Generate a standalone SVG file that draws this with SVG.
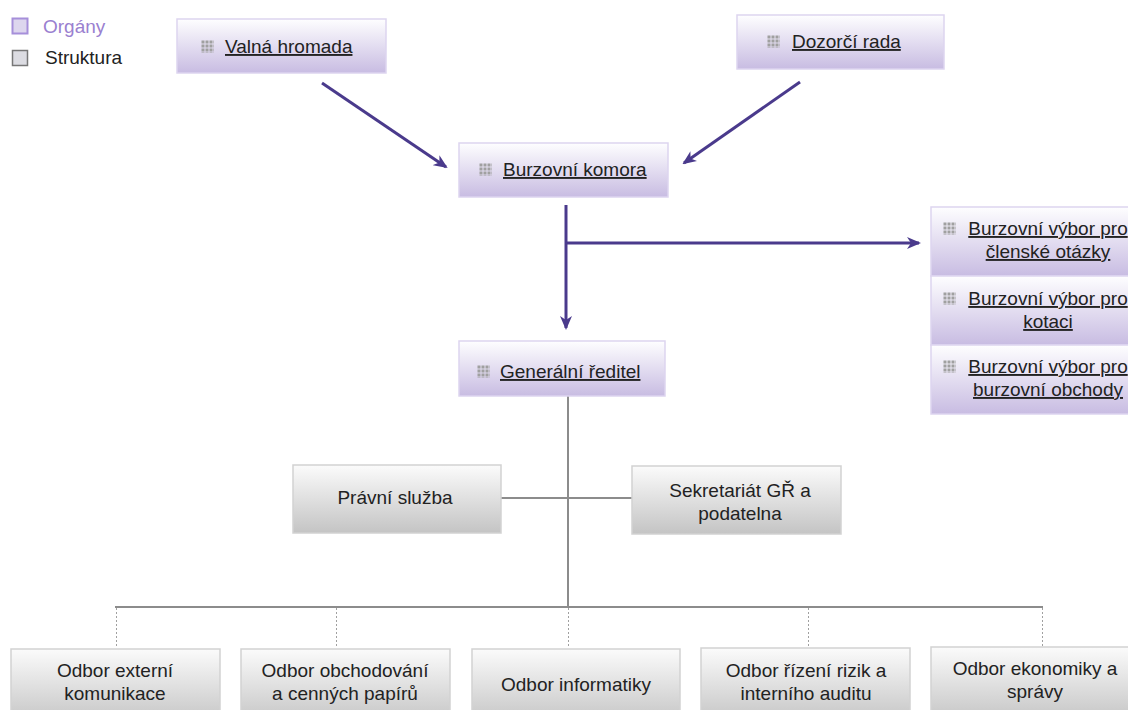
<svg xmlns="http://www.w3.org/2000/svg" width="1128" height="710" viewBox="0 0 1128 710">
<style>
.t{font-family:"Liberation Sans",Arial,sans-serif;font-size:19px;fill:#222;}
.u{text-decoration:underline;}
.org rect.b{fill:url(#gp);stroke:#ddd5ef;stroke-width:1.5;}
.str rect.b{fill:url(#gg);stroke:#d2d2d2;stroke-width:1.5;}
.arr{stroke:#4a3a8c;stroke-width:3;fill:none;marker-end:url(#ah);}
.gl{stroke:#8c8c8c;stroke-width:2;fill:none;}
.dl{stroke:#a0a0a0;stroke-width:1;stroke-dasharray:2 2;fill:none;}
</style>
<defs>
<linearGradient id="gp" x1="0" y1="0" x2="0" y2="1"><stop offset="0" stop-color="#fefeff"/><stop offset="1" stop-color="#c8bce2"/></linearGradient>
<linearGradient id="gg" x1="0" y1="0" x2="0" y2="1"><stop offset="0" stop-color="#fbfbfb"/><stop offset="1" stop-color="#c4c4c4"/></linearGradient>
<marker id="ah" markerWidth="14" markerHeight="12" refX="12" refY="6" orient="auto" markerUnits="userSpaceOnUse"><path d="M0,0 L14,6 L0,12 L4,6 z" fill="#4a3a8c"/></marker>
<pattern id="ic" width="4" height="4" patternUnits="userSpaceOnUse"><rect x="0.5" y="0.5" width="3" height="3" fill="#a0a0a0"/></pattern>
<g id="icon"><rect width="13" height="13" fill="url(#ic)"/></g>
</defs>
<rect width="1128" height="710" fill="#ffffff"/>

<g id="legend">
<rect x="12.5" y="18.5" width="15" height="15" fill="#ddd6ee" stroke="#a68fda" stroke-width="2"/>
<text x="43" y="33" font-family="Liberation Sans,Arial,sans-serif" font-size="19" fill="#9a80d0">Orgány</text>
<rect x="12.5" y="50.5" width="15" height="15" fill="#dcdce2" stroke="#777" stroke-width="1.5"/>
<text x="45" y="64" font-family="Liberation Sans,Arial,sans-serif" font-size="19" fill="#222">Struktura</text>
</g>

<g id="connectors">
<line class="arr" x1="322" y1="83" x2="446" y2="167"/>
<line class="arr" x1="800" y1="82" x2="684" y2="163"/>
<line class="arr" x1="566" y1="205" x2="566" y2="328"/>
<line class="arr" x1="566" y1="243" x2="919" y2="243"/>
<line class="gl" x1="568" y1="396" x2="568" y2="608"/>
<line class="gl" x1="501" y1="498" x2="632" y2="498"/>
<line class="gl" x1="115" y1="607" x2="1043" y2="607"/>
<line class="dl" x1="116.5" y1="608" x2="116.5" y2="648"/>
<line class="dl" x1="336.5" y1="608" x2="336.5" y2="648"/>
<line class="dl" x1="568.5" y1="608" x2="568.5" y2="648"/>
<line class="dl" x1="808.5" y1="608" x2="808.5" y2="648"/>
<line class="dl" x1="1042.5" y1="608" x2="1042.5" y2="648"/>
</g>

<g id="valna-hromada" class="org">
<rect class="b" x="177" y="19" width="209" height="54"/>
<use href="#icon" x="201" y="40"/>
<text class="t u" x="225" y="53">Valná hromada</text>
</g>
<g id="dozorci-rada" class="org">
<rect class="b" x="737" y="15" width="207" height="54"/>
<use href="#icon" x="767" y="35"/>
<text class="t u" x="792" y="48">Dozorčí rada</text>
</g>
<g id="burzovni-komora" class="org">
<rect class="b" x="459" y="143" width="209" height="54"/>
<use href="#icon" x="479" y="163"/>
<text class="t u" x="503" y="176">Burzovní komora</text>
</g>
<g id="generalni-reditel" class="org">
<rect class="b" x="459" y="341" width="206" height="55"/>
<use href="#icon" x="477" y="365"/>
<text class="t u" x="500" y="378">Generální ředitel</text>
</g>
<g id="vybor-clenske" class="org">
<rect class="b" x="931" y="207" width="240" height="69"/>
<use href="#icon" x="943" y="222"/>
<text class="t u" x="1048" y="235" text-anchor="middle">Burzovní výbor pro</text>
<text class="t u" x="1048" y="258" text-anchor="middle">členské otázky</text>
</g>
<g id="vybor-kotaci" class="org">
<rect class="b" x="931" y="276" width="240" height="69"/>
<use href="#icon" x="943" y="292"/>
<text class="t u" x="1048" y="305" text-anchor="middle">Burzovní výbor pro</text>
<text class="t u" x="1048" y="328" text-anchor="middle">kotaci</text>
</g>
<g id="vybor-obchody" class="org">
<rect class="b" x="931" y="345" width="240" height="69"/>
<use href="#icon" x="943" y="360"/>
<text class="t u" x="1048" y="373" text-anchor="middle">Burzovní výbor pro</text>
<text class="t u" x="1048" y="396" text-anchor="middle">burzovní obchody</text>
</g>

<g id="pravni-sluzba" class="str">
<rect class="b" x="293" y="465" width="208" height="68"/>
<text class="t" x="395" y="504" text-anchor="middle">Právní služba</text>
</g>
<g id="sekretariat" class="str">
<rect class="b" x="632" y="466" width="209" height="68"/>
<text class="t" x="740" y="497" text-anchor="middle">Sekretariát GŘ a</text>
<text class="t" x="740" y="520" text-anchor="middle">podatelna</text>
</g>

<g id="odbor-externi" class="str">
<rect class="b" x="11" y="649" width="209" height="75"/>
<text class="t" x="115" y="677" text-anchor="middle">Odbor externí</text>
<text class="t" x="115" y="700" text-anchor="middle">komunikace</text>
</g>
<g id="odbor-obchodovani" class="str">
<rect class="b" x="241" y="649" width="209" height="75"/>
<text class="t" x="345" y="677" text-anchor="middle">Odbor obchodování</text>
<text class="t" x="345" y="700" text-anchor="middle">a cenných papírů</text>
</g>
<g id="odbor-informatiky" class="str">
<rect class="b" x="472" y="649" width="208" height="75"/>
<text class="t" x="576" y="691" text-anchor="middle">Odbor informatiky</text>
</g>
<g id="odbor-rizik" class="str">
<rect class="b" x="701" y="648" width="209" height="75"/>
<text class="t" x="806" y="677" text-anchor="middle">Odbor řízení rizik a</text>
<text class="t" x="806" y="700" text-anchor="middle">interního auditu</text>
</g>
<g id="odbor-ekonomiky" class="str">
<rect class="b" x="931" y="647" width="209" height="75"/>
<text class="t" x="1035" y="675" text-anchor="middle">Odbor ekonomiky a</text>
<text class="t" x="1035" y="698" text-anchor="middle">správy</text>
</g>
</svg>
